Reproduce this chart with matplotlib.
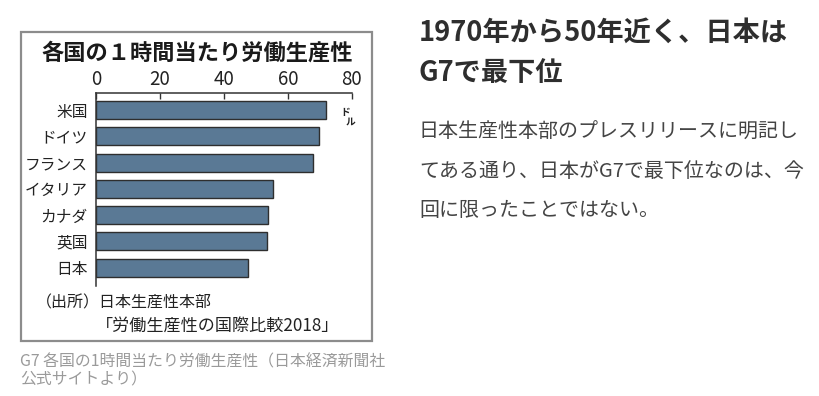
import matplotlib
matplotlib.use("Agg")
import matplotlib.pyplot as plt
from matplotlib.patches import Rectangle

plt.rcParams['font.family'] = ['Noto Sans CJK JP', 'DejaVu Sans']

# data (ドル per hour, 2017)
countries = ["米国", "ドイツ", "フランス", "イタリア", "カナダ", "英国", "日本"]
productivity = [72.0, 69.8, 67.8, 55.5, 53.7, 53.5, 47.5]
ticks = [0, 20, 40, 60, 80]

W, H = 820, 396


def px(x, y):
    # pixel coords (top-left origin) -> figure fraction
    return x / W, 1 - y / H


fig = plt.figure(figsize=(W / 100, H / 100), dpi=100)
fig.patch.set_facecolor("white")

# chart box
fig.patches.append(Rectangle(px(21, 341), 351 / W, 309 / H, transform=fig.transFigure,
                             fill=False, edgecolor="#8c8c8c", lw=1.6))

# axes
left, top = px(96, 92.7)
right, bottom = px(351.7, 286)
ax = fig.add_axes([left, bottom, right - left, top - bottom])
ax.barh(range(len(countries)), productivity, height=0.69, color="#5a7995",
        edgecolor="#2e2e2e", lw=1.0)
ax.set_xlim(0, 80)
ax.set_ylim(6.7, -0.66)
ax.set_yticks(range(len(countries)))
ax.set_yticklabels(countries, fontsize=11.3, color="#222222")
ax.set_xticks(ticks)
ax.xaxis.tick_top()
ax.tick_params(axis="x", direction="in", length=4, width=1, pad=2,
               labelsize=13.5, labelcolor="#222222", color="#333333")
ax.tick_params(axis="y", length=0, pad=6)
for s in ["right", "bottom"]:
    ax.spines[s].set_visible(False)
for s in ["top", "left"]:
    ax.spines[s].set_color("#333333")
    ax.spines[s].set_linewidth(1.1)
ax.patch.set_alpha(0)

# unit
fig.text(*px(345, 112), "ド", fontsize=7, fontweight="bold", ha="center", va="center",
         color="#222222")
fig.text(*px(350.5, 121.5), "ル", fontsize=7, fontweight="bold", ha="center", va="center",
         color="#222222")

# chart title and source
fig.text(*px(197, 53), "各国の１時間当たり労働生産性", fontsize=16, fontweight="bold",
         ha="center", va="center", color="#1a1a1a")
fig.text(*px(36, 303), "（出所）日本生産性本部", fontsize=11.5, ha="left", va="center",
         color="#222222")
fig.text(*px(96, 327), "「労働生産性の国際比較2018」", fontsize=12.3, ha="left",
         va="center", color="#222222")

# caption under the image
fig.text(*px(20, 362), "G7 各国の1時間当たり労働生産性（日本経済新聞社", fontsize=11.4,
         ha="left", va="center", color="#9a9a9a")
fig.text(*px(20, 380), "公式サイトより）", fontsize=11.4, ha="left", va="center",
         color="#9a9a9a")

# article text on the right
fig.text(*px(419, 33), "1970年から50年近く、日本は", fontsize=19.6, fontweight="bold",
         ha="left", va="center", color="#2e2e2e")
fig.text(*px(419, 73), "G7で最下位", fontsize=19.6, fontweight="bold",
         ha="left", va="center", color="#2e2e2e")
body = ["日本生産性本部のプレスリリースに明記し",
        "てある通り、日本がG7で最下位なのは、今",
        "回に限ったことではない。"]
for i, line in enumerate(body):
    fig.text(*px(419, 132 + 39 * i), line, fontsize=14.4, ha="left", va="center",
             color="#444444")

fig.savefig("out.png", dpi=100)
